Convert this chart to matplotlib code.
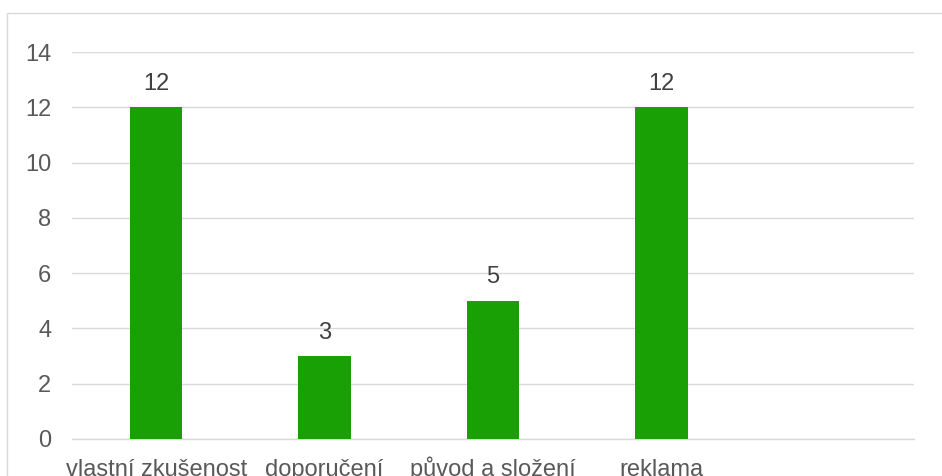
import matplotlib
matplotlib.use("Agg")
import matplotlib.pyplot as plt
from matplotlib.patches import Rectangle

# data
categories = ["vlastní zkušenost", "doporučení", "původ a složení", "reklama", ""]
values = [12, 3, 5, 12, None]
yticks = [0, 2, 4, 6, 8, 10, 12, 14]

plt.rcParams['font.family'] = ['Liberation Sans', 'DejaVu Sans']

fig = plt.figure(figsize=(9.42, 4.76), dpi=100)
ax = fig.add_axes([72 / 942, 1 - 438.7 / 476, (914 - 72) / 942, (438.7 - 52.3) / 476])

# outer chart border (only left and top are visible in the picture)
fig.patches.append(Rectangle((7 / 942, -0.2), 1.2, (476 - 13) / 476 + 0.2,
                             transform=fig.transFigure, fill=False,
                             edgecolor='#d9d9d9', linewidth=1.0))

x = list(range(len(categories)))
bar_x = [i for i, v in zip(x, values) if v is not None]
bar_v = [v for v in values if v is not None]
bars = ax.bar(bar_x, bar_v, width=0.31, color='#18a005', zorder=3)

# value labels above bars
for xi, v in zip(bar_x, bar_v):
    ax.annotate(str(v), (xi, v), xytext=(0, 12.5), textcoords='offset points',
                ha='center', va='baseline', fontsize=17, color='#404040')

ax.set_xlim(-0.5, len(categories) - 0.5)
ax.set_ylim(0, 14)
ax.set_yticks(yticks)
ax.set_xticks(x)
ax.set_xticklabels(categories, va='baseline')

ax.grid(axis='y', color='#d9d9d9', linewidth=1.0, zorder=0)
for s in ['top', 'right', 'left']:
    ax.spines[s].set_visible(False)
ax.spines['bottom'].set_color('#d9d9d9')
ax.spines['bottom'].set_linewidth(1.0)

ax.tick_params(axis='y', length=0, pad=15, labelsize=17, labelcolor='#595959')
ax.tick_params(axis='x', length=0, pad=27, labelsize=17, labelcolor='#595959')

fig.savefig("out.png", dpi=100)
